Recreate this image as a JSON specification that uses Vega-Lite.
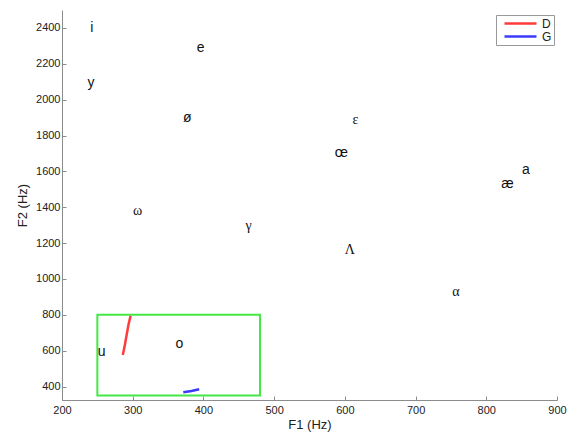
{
  "$schema": "https://vega.github.io/schema/vega-lite/v6.json",
  "width": 495,
  "height": 390,
  "autosize": "none",
  "padding": {"left": 62, "top": 10, "right": 12, "bottom": 32},
  "background": "white",
  "config": {
    "view": {"stroke": null},
    "font": "Liberation Sans",
    "axis": {
      "grid": false,
      "domainColor": "#8c8c8c",
      "tickColor": "#8c8c8c",
      "tickSize": -4,
      "labelFont": "Liberation Sans",
      "labelFontSize": 11,
      "labelColor": "#222222",
      "labelFlush": false,
      "labelOverlap": false,
      "titleFont": "Liberation Sans",
      "titleFontSize": 13,
      "titleFontWeight": "normal",
      "titleColor": "#222222"
    },
    "axisY": {"labelOverlap": false, "labelSeparation": 0}
  },
  "datasets": {
    "vowels": [
      {"label": "i", "F1": 242, "F2": 2400, "style": "sans"},
      {"label": "e", "F1": 396, "F2": 2290, "style": "sans"},
      {"label": "y", "F1": 241, "F2": 2093, "style": "sans"},
      {"label": "ø", "F1": 377, "F2": 1898, "style": "sans"},
      {"label": "œ", "F1": 595, "F2": 1703, "style": "sans"},
      {"label": "a", "F1": 856, "F2": 1608, "style": "sans"},
      {"label": "æ", "F1": 830, "F2": 1528, "style": "sans"},
      {"label": "u", "F1": 256, "F2": 592, "style": "sans"},
      {"label": "o", "F1": 366, "F2": 637, "style": "sans"},
      {"label": "ω", "F1": 307, "F2": 1379, "style": "serif"},
      {"label": "γ", "F1": 464, "F2": 1293, "style": "serif"},
      {"label": "ε", "F1": 615, "F2": 1887, "style": "serif"},
      {"label": "Λ", "F1": 607, "F2": 1162, "style": "serif"},
      {"label": "α", "F1": 757, "F2": 927, "style": "serif"}
    ],
    "tracks": [
      {"speaker": "D", "order": 1, "F1": 286, "F2": 576},
      {"speaker": "D", "order": 2, "F1": 289, "F2": 635},
      {"speaker": "D", "order": 3, "F1": 291.5, "F2": 690},
      {"speaker": "D", "order": 4, "F1": 294, "F2": 745},
      {"speaker": "D", "order": 5, "F1": 297, "F2": 795},
      {"speaker": "G", "order": 1, "F1": 371.5, "F2": 368},
      {"speaker": "G", "order": 2, "F1": 383, "F2": 375},
      {"speaker": "G", "order": 3, "F1": 394, "F2": 385}
    ],
    "box": [
      {"F1a": 250, "F1b": 480, "F2a": 350, "F2b": 800}
    ]
  },
  "layer": [
    {
      "data": {"name": "box"},
      "mark": {"type": "rect", "filled": false, "stroke": "#44e844", "strokeWidth": 2},
      "encoding": {
        "x": {"field": "F1a", "type": "quantitative", "scale": {"domain": [200, 900], "nice": false, "zero": false},
              "axis": {"title": "F1 (Hz)", "values": [200, 300, 400, 500, 600, 700, 800, 900], "format": "d", "labelOverlap": false, "labelPadding": 8, "titlePadding": 3}},
        "x2": {"field": "F1b"},
        "y": {"field": "F2a", "type": "quantitative", "scale": {"domain": [325, 2500], "nice": false, "zero": false},
              "axis": {"title": "F2 (Hz)", "tickCount": 11, "values": [400, 600, 800, 1000, 1200, 1400, 1600, 1800, 2000, 2200, 2400], "format": "d", "labelOverlap": false, "labelSeparation": 0, "labelPadding": 6, "titlePadding": 6}},
        "y2": {"field": "F2b"}
      }
    },
    {
      "data": {"name": "tracks"},
      "mark": {"type": "line", "strokeWidth": 2.5},
      "encoding": {
        "x": {"field": "F1", "type": "quantitative"},
        "y": {"field": "F2", "type": "quantitative"},
        "order": {"field": "order", "type": "quantitative"},
        "color": {
          "field": "speaker", "type": "nominal",
          "scale": {"domain": ["D", "G"], "range": ["#ff3b3b", "#3b3bff"]},
          "legend": {
            "title": null,
            "orient": "none",
            "legendX": 434,
            "legendY": 5,
            "symbolType": "M0,0H6.4",
            "symbolSize": 100,
            "symbolStrokeWidth": 2.5,
            "labelFontSize": 12,
            "labelColor": "#222222",
            "labelOffset": 31,
            "rowPadding": 0,
            "padding": 2,
            "strokeColor": "#999999",
            "fillColor": "white"
          }
        }
      }
    },
    {
      "data": {"name": "vowels"},
      "transform": [{"filter": "datum.style == 'sans'"}],
      "mark": {"type": "text", "font": "Liberation Sans", "fontSize": 14, "align": "center", "baseline": "middle", "color": "#111111"},
      "encoding": {
        "x": {"field": "F1", "type": "quantitative"},
        "y": {"field": "F2", "type": "quantitative"},
        "text": {"field": "label"}
      }
    },
    {
      "data": {"name": "vowels"},
      "transform": [{"filter": "datum.style == 'serif'"}],
      "mark": {"type": "text", "font": "Liberation Serif", "fontSize": 14, "align": "center", "baseline": "middle", "color": "#111111"},
      "encoding": {
        "x": {"field": "F1", "type": "quantitative"},
        "y": {"field": "F2", "type": "quantitative"},
        "text": {"field": "label"}
      }
    }
  ]
}
